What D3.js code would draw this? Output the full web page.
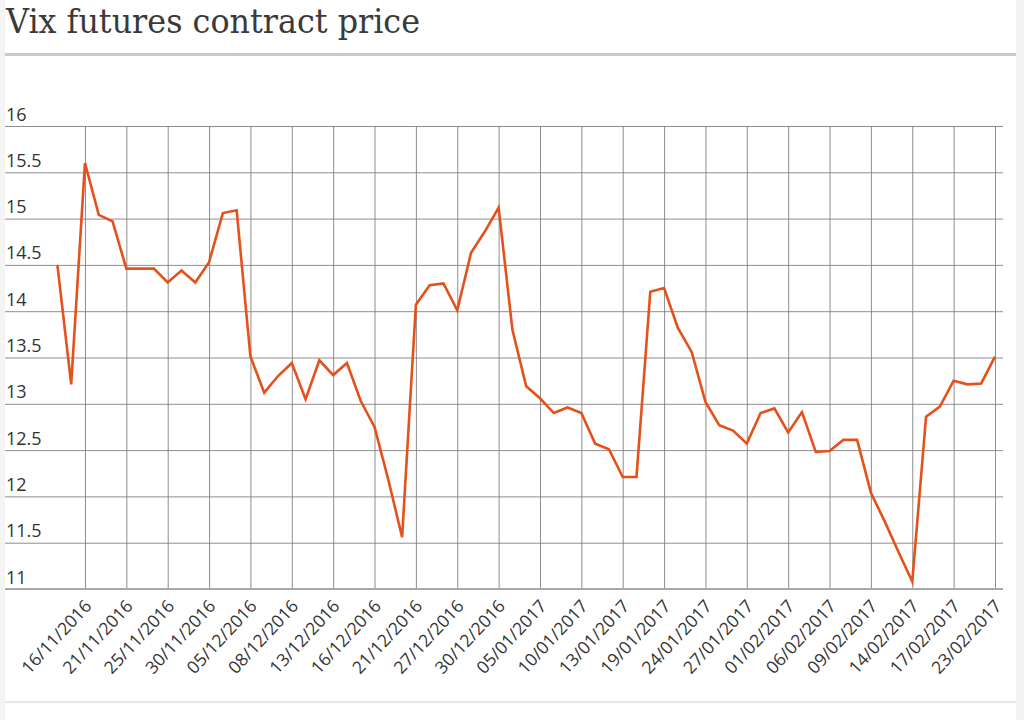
<!DOCTYPE html>
<html>
<head>
<meta charset="utf-8">
<script src="https://cdn.jsdelivr.net/npm/d3@7"></script>
<style>
  body { margin: 0; background: #f4f4f4; }
  #graph { position: absolute; left: 5px; top: 0; width: 1011px; height: 720px; background: #fff; }
  svg { display: block; }
</style>
</head>
<body>
<div id="graph"></div>
<script>
// trading days, 14/11/2016 .. 23/02/2017
let dates = [
  "14/11/2016","15/11/2016","16/11/2016","17/11/2016","18/11/2016","21/11/2016","22/11/2016","23/11/2016","25/11/2016","28/11/2016","29/11/2016","30/11/2016",
  "01/12/2016","02/12/2016","05/12/2016","06/12/2016","07/12/2016","08/12/2016","09/12/2016","12/12/2016","13/12/2016","14/12/2016","15/12/2016","16/12/2016",
  "19/12/2016","20/12/2016","21/12/2016","22/12/2016","23/12/2016","27/12/2016","28/12/2016","29/12/2016","30/12/2016",
  "03/01/2017","04/01/2017","05/01/2017","06/01/2017","09/01/2017","10/01/2017","11/01/2017","12/01/2017","13/01/2017","17/01/2017","18/01/2017","19/01/2017",
  "20/01/2017","23/01/2017","24/01/2017","25/01/2017","26/01/2017","27/01/2017","30/01/2017","31/01/2017",
  "01/02/2017","02/02/2017","03/02/2017","06/02/2017","07/02/2017","08/02/2017","09/02/2017","10/02/2017","13/02/2017","14/02/2017","15/02/2017","16/02/2017",
  "17/02/2017","21/02/2017","22/02/2017","23/02/2017"
];

let prices = [
  14.5, 13.21, 15.6, 15.04, 14.97, 14.46, 14.46, 14.46, 14.31, 14.44, 14.31, 14.53,
  15.06, 15.09, 13.51, 13.12, 13.3, 13.44, 13.05, 13.47, 13.31, 13.44, 13.03, 12.75,
  12.18, 11.56, 14.07, 14.28, 14.3, 14.01, 14.63, 14.86, 15.12,
  13.8, 13.19, 13.06, 12.9, 12.96, 12.9, 12.57, 12.51, 12.21, 12.21, 14.21, 14.25,
  13.82, 13.56, 13.02, 12.77, 12.71, 12.57, 12.9, 12.95,
  12.69, 12.91, 12.48, 12.49, 12.61, 12.61, 12.04, 11.73, 11.4, 11.08, 12.86, 12.97,
  13.25, 13.21, 13.22, 13.51
];

let yTicks = [11, 11.5, 12, 12.5, 13, 13.5, 14, 14.5, 15, 15.5, 16];
let xTicks = dates.filter(function (d, i) { return i % 3 === 2; });

let data = dates.map(function (d, i) { return { date: d, price: prices[i] }; });

let svg = d3.select("#graph").append("svg")
  .attr("width", 1011)
  .attr("height", 720);

// shift so coordinates below are page coordinates
let g = svg.append("g").attr("transform", "translate(-5,0)");

g.append("text")
  .attr("x", 6)
  .attr("y", 33)
  .attr("font-family", "DejaVu Serif, serif")
  .attr("font-size", 34)
  .attr("fill", "#3a3a3a")
  .attr("textLength", 414)
  .attr("lengthAdjust", "spacingAndGlyphs")
  .text("Vix futures contract price");

g.append("rect")
  .attr("x", 5).attr("y", 53)
  .attr("width", 1011).attr("height", 3)
  .attr("fill", "#cacaca");

g.append("rect")
  .attr("x", 5).attr("y", 701)
  .attr("width", 1011).attr("height", 2)
  .attr("fill", "#e6e6e6");

let yScale = d3.scaleLinear()
  .domain([11, 16])
  .range([589, 126]);

let xScale = d3.scalePoint()
  .domain(dates)
  .range([57.4, 995]);

// horizontal grid + labels
let yAxis = d3.axisLeft(yScale)
  .tickValues(yTicks)
  .tickSize(-998)
  .tickFormat(function (d) { return d; });

let yg = g.append("g")
  .attr("transform", "translate(5,0)")
  .call(yAxis);
yg.select(".domain").remove();
yg.selectAll(".tick line")
  .attr("x1", 0)
  .attr("x2", 998)
  .attr("stroke", "#7a7a7a")
  .attr("stroke-opacity", function (d) { return d === 11 ? 0 : 0.85; });
yg.selectAll(".tick text")
  .attr("x", 1)
  .attr("dy", -6)
  .attr("text-anchor", "start")
  .attr("font-family", "Open Sans, sans-serif")
  .attr("font-size", 18)
  .attr("fill", "#333");

// vertical grid + rotated date labels
let xAxis = d3.axisBottom(xScale)
  .tickValues(xTicks)
  .tickSize(0)
  .tickPadding(0);

let xg = g.append("g")
  .attr("transform", "translate(0,589)")
  .call(xAxis);
xg.select(".domain").remove();
xg.selectAll(".tick line")
  .attr("y1", 0)
  .attr("y2", -463)
  .attr("stroke", "#7a7a7a")
  .attr("stroke-opacity", 0.85);
xg.selectAll(".tick text")
  .attr("y", 0)
  .attr("dy", 0)
  .attr("text-anchor", "end")
  .attr("transform", "translate(7,18) rotate(-47)")
  .attr("font-family", "Open Sans, sans-serif")
  .attr("font-size", 17.5)
  .attr("fill", "#333");

// base line
g.append("line")
  .attr("x1", 5).attr("x2", 1003)
  .attr("y1", yScale(11)).attr("y2", yScale(11))
  .attr("stroke", "#a8a8a8")
  .attr("stroke-width", 2);

let line = d3.line()
  .x(function (d) { return xScale(d.date); })
  .y(function (d) { return yScale(d.price); });

g.append("path")
  .datum(data)
  .attr("fill", "none")
  .attr("stroke", "#e4511b")
  .attr("stroke-width", 2.6)
  .attr("stroke-linejoin", "miter")
  .attr("d", line);
</script>
</body>
</html>
